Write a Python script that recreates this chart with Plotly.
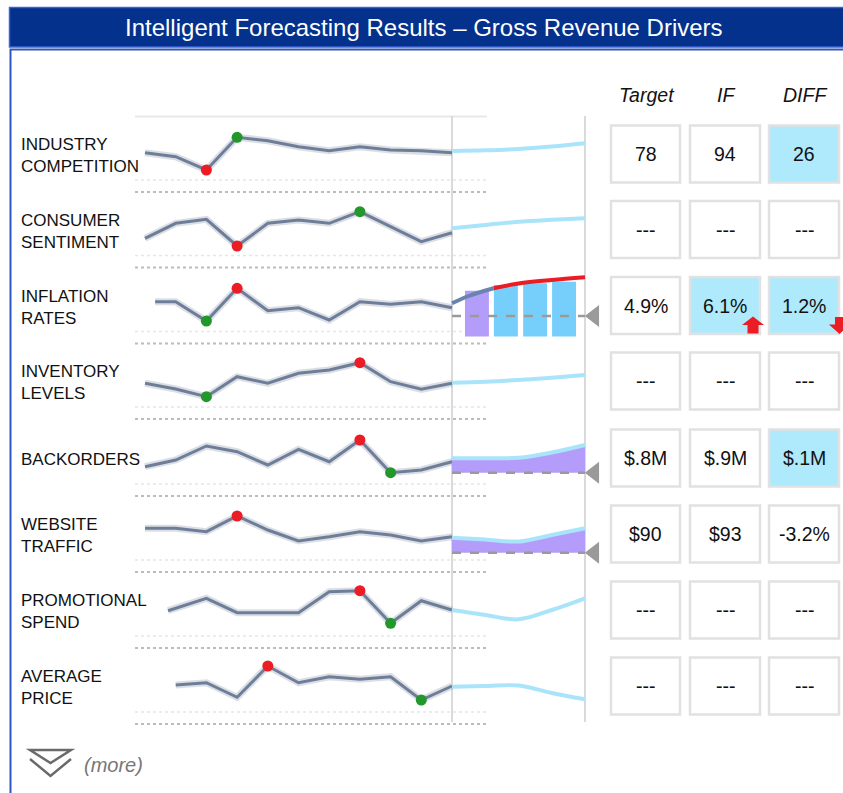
import plotly.graph_objects as go

W, H = 843, 793

# ---------------- data ----------------
row_labels = ["INDUSTRY<br>COMPETITION", "CONSUMER<br>SENTIMENT", "INFLATION<br>RATES",
              "INVENTORY<br>LEVELS", "BACKORDERS", "WEBSITE<br>TRAFFIC",
              "PROMOTIONAL<br>SPEND", "AVERAGE<br>PRICE"]

periods = [0, 1, 2, 3, 4, 5, 6, 7, 8, 9, 10]
periods_inflation = [0.33, 1, 2, 3, 4, 5, 6, 7, 8, 9, 10]
periods_promo = [0.75, 2, 3, 4, 5, 6, 7, 8, 9, 10]
periods_price = [1, 2, 3, 4, 5, 6, 7, 8, 9, 10]

hist_industry = [1.3, -2.7, -16, 16.7, 13.3, 7.3, 3.3, 7.3, 4, 3.3, 1.3]
hist_consumer = [-8.8, 6.2, 10.2, -16.5, 6.2, 9.5, 6.2, 17.8, 2.8, -12.2, -3.2]
hist_inflation = [3.8, 3.8, -15.5, 17.2, -5.2, -2.2, -14.5, 3.8, 1.2, 3.8, -2.2]
hist_inventory = [-2.3, -8, -15.7, 4.3, -2.3, 7.7, 11, 18.3, -0.7, -8.3, -2.3]
hist_backorders = [-8.7, -2, 12, 6.3, -7, 8.7, -3.7, 18, -14.7, -12, -3.7]
hist_website = [5.7, 5.7, 2.3, 18, 4, -7, -2.7, 2.3, -1, -7, -2.7]
hist_promo = [-0.7, 11.7, -2.7, -2.7, -2.7, 18.3, 19.3, -13.3, 9.3, 0]
hist_price = [1, 3.3, -11.3, 20, 3.3, 9.3, 6.7, 9.3, -14, 0]

red_period = [2, 3, 3, 7, 7, 3, 7, 4]
green_period = [3, 7, 2, 2, 8, None, 8, 9]

fc_steps = [0, 1, 2, 3, 4]
fc_steps_inflation = [0, 0.5, 1.25, 2, 3, 4]
fc_industry = [3, 3.7, 5, 7.5, 10.7]
fc_consumer = [1.2, 4.5, 7.8, 9.7, 11.2]
fc_inflation = [2.2, 9.5, 17.2, 22, 25.5, 28.2]
fc_inventory = [-1.7, -0.7, 1, 3.3, 6]
fc_backorders = [-0.3, -0.3, 0.2, 5.5, 13]
fc_website = [-3.7, -5.5, -7.5, -1, 5.7]
fc_promo = [0, -5, -9.3, 0, 11.7]
fc_price = [-0.7, 0, 0.5, -7, -13.3]

inflation_bar_x = [0.75, 1.62, 2.5, 3.37]
inflation_bar_top = [14.8, 20.5, 22.2, 23.8]
inflation_bar_base = -31

target_level = {2: -10.5, 4: -14.7, 5: -18.7}

target_vals = ["78", "---", "4.9%", "---", "$.8M", "$90", "---", "---"]
if_vals = ["94", "---", "6.1%", "---", "$.9M", "$93", "---", "---"]
diff_vals = ["26", "---", "1.2%", "---", "$.1M", "-3.2%", "---", "---"]
if_highlight = [False, False, True, False, False, False, False, False]
diff_highlight = [True, False, True, False, True, False, False, False]
col_headers = ["Target", "IF", "DIFF"]

hist_values = [hist_industry, hist_consumer, hist_inflation, hist_inventory,
               hist_backorders, hist_website, hist_promo, hist_price]
hist_periods = [periods, periods, periods_inflation, periods, periods, periods,
                periods_promo, periods_price]
fc_values = [fc_industry, fc_consumer, fc_inflation, fc_inventory,
             fc_backorders, fc_website, fc_promo, fc_price]

# ---------------- layout constants ----------------
ROW_C = [154, 229.5, 305.5, 381, 458, 534, 610, 686]
HALF = 38
HX0, HX1 = 145, 452
FX0, FX1 = 452, 585
HSTEP = (HX1 - HX0) / 10
FSTEP = (FX1 - FX0) / 4
CELL_X = [(611, 680), (690, 760), (769, 839)]

NAVY = "#03318b"
LINE = "#6e7e99"
LBLUE = "#a9e4fb"
PURPLE = "#b49cfa"
BARBLUE = "#76cffb"
RED = "#ec1c24"
GREEN = "#22972a"
GRAY = "#9a9a9a"
FONT = "Arial, Liberation Sans, sans-serif"


def X(p):
    return p / W


def Y(p):
    return 1 - p / H


def xr(k):
    return "x" if k == 1 else f"x{k}"


def yr(k):
    return "y" if k == 1 else f"y{k}"


fig = go.Figure()
layout_axes = {}

for i in range(8):
    c = ROW_C[i]
    kh, kf = 2 * i + 1, 2 * i + 2
    ydom = [Y(c + HALF), Y(c - HALF)]
    layout_axes["xaxis" if kh == 1 else f"xaxis{kh}"] = dict(
        domain=[X(HX0 - 0.25 * HSTEP), X(HX1 + 0.25 * HSTEP)], range=[-0.25, 10.25],
        visible=False, anchor=yr(kh), fixedrange=True)
    layout_axes["yaxis" if kh == 1 else f"yaxis{kh}"] = dict(
        domain=ydom, range=[-HALF, HALF], visible=False, anchor=xr(kh), fixedrange=True)
    layout_axes[f"xaxis{kf}"] = dict(
        domain=[X(FX0 - 0.1 * FSTEP), X(FX1 + 0.7 * FSTEP)], range=[-0.1, 4.7],
        visible=False, anchor=yr(kf), fixedrange=True)
    layout_axes[f"yaxis{kf}"] = dict(
        domain=ydom, range=[-HALF, HALF], visible=False, anchor=xr(kf), fixedrange=True)

    px_, vals = hist_periods[i], hist_values[i]
    lookup = dict(zip(px_, vals))
    # soft shadow + line
    fig.add_trace(go.Scatter(x=px_, y=vals, mode="lines", xaxis=xr(kh), yaxis=yr(kh),
                             line=dict(color="rgba(110,126,153,0.25)", width=7), hoverinfo="skip"))
    fig.add_trace(go.Scatter(x=px_, y=vals, mode="lines", xaxis=xr(kh), yaxis=yr(kh),
                             line=dict(color=LINE, width=3), hoverinfo="skip"))
    if red_period[i] is not None:
        fig.add_trace(go.Scatter(x=[red_period[i]], y=[lookup[red_period[i]]], mode="markers",
                                 xaxis=xr(kh), yaxis=yr(kh), cliponaxis=False,
                                 marker=dict(color=RED, size=11)))
    if green_period[i] is not None:
        fig.add_trace(go.Scatter(x=[green_period[i]], y=[lookup[green_period[i]]], mode="markers",
                                 xaxis=xr(kh), yaxis=yr(kh), cliponaxis=False,
                                 marker=dict(color=GREEN, size=11)))

    fv = fc_values[i]
    if i == 2:
        fig.add_trace(go.Bar(x=inflation_bar_x, y=[t - inflation_bar_base for t in inflation_bar_top],
                             base=inflation_bar_base, width=0.72, xaxis=xr(kf), yaxis=yr(kf),
                             marker=dict(color=[PURPLE, BARBLUE, BARBLUE, BARBLUE], line=dict(width=0))))
        fig.add_trace(go.Scatter(x=[0, 4], y=[target_level[i]] * 2, mode="lines",
                                 xaxis=xr(kf), yaxis=yr(kf),
                                 line=dict(color=GRAY, width=2.5, dash="dash")))
        fig.add_trace(go.Scatter(x=fc_steps_inflation[:3], y=fv[:3], mode="lines", line_shape="spline",
                                 xaxis=xr(kf), yaxis=yr(kf), line=dict(color="#6a84b0", width=4)))
        fig.add_trace(go.Scatter(x=fc_steps_inflation[2:], y=fv[2:], mode="lines", line_shape="spline",
                                 xaxis=xr(kf), yaxis=yr(kf), line=dict(color=RED, width=4)))
    elif i in (4, 5):
        fig.add_trace(go.Scatter(x=[0, 4], y=[target_level[i]] * 2, mode="lines",
                                 xaxis=xr(kf), yaxis=yr(kf),
                                 line=dict(color=GRAY, width=2.5, dash="dash")))
        fig.add_trace(go.Scatter(x=fc_steps, y=fv, mode="lines", line_shape="spline",
                                 fill="tonexty", fillcolor=PURPLE,
                                 xaxis=xr(kf), yaxis=yr(kf), line=dict(color=LBLUE, width=4)))
    else:
        fig.add_trace(go.Scatter(x=fc_steps, y=fv, mode="lines", line_shape="spline",
                                 xaxis=xr(kf), yaxis=yr(kf), line=dict(color=LBLUE, width=4)))
    if i in target_level:
        fig.add_trace(go.Scatter(x=[4.28], y=[target_level[i]], mode="markers", cliponaxis=False,
                                 xaxis=xr(kf), yaxis=yr(kf),
                                 marker=dict(symbol="triangle-left", size=19, color=GRAY)))

shapes = []
annotations = []


def rect(x0, y0, x1, y1, **kw):
    d = dict(type="rect", xref="paper", yref="paper", x0=X(x0), x1=X(x1), y0=Y(y1), y1=Y(y0))
    d.update(kw)
    shapes.append(d)


def hline(x0, x1, y, **kw):
    d = dict(type="line", xref="paper", yref="paper", x0=X(x0), x1=X(x1), y0=Y(y), y1=Y(y))
    d.update(kw)
    shapes.append(d)


def path(pts, close=True, **kw):
    s = "M " + " L ".join(f"{X(a):.5f},{Y(b):.5f}" for a, b in pts) + (" Z" if close else "")
    d = dict(type="path", xref="paper", yref="paper", path=s)
    d.update(kw)
    shapes.append(d)


# header and frame (open on the right / bottom, as in the cropped original)
rect(9.5, 7.5, 843, 47, fillcolor=NAVY, line=dict(width=0))
path([(843, 7.5), (9.5, 7.5), (9.5, 47), (843, 47)], close=False,
     line=dict(color="#3e62cf", width=1.5), fillcolor="rgba(0,0,0,0)")
path([(843, 49.5), (10.5, 49.5), (10.5, 793)], close=False,
     line=dict(color="#2f55c4", width=2), fillcolor="rgba(0,0,0,0)")
# keep the right edge clean
rect(841.5, 51, 843, 793, fillcolor="white", line=dict(width=0), layer="below")

# top separator and dotted separators
hline(135, 487, 116.5, line=dict(color="#e8e8e8", width=2), layer="below")
for c in ROW_C:
    hline(135, 487, c + 26, line=dict(color="#e6e6e6", width=1.5, dash="dot"), layer="below")
    hline(135, 487, c + 38, line=dict(color="#bcbcbc", width=2, dash="dot"), layer="below")

# vertical dividers
for xv in (452, 585):
    shapes.append(dict(type="line", xref="paper", yref="paper", x0=X(xv), x1=X(xv),
                       y0=Y(116), y1=Y(722), line=dict(color="#dadada", width=2), layer="below"))

# cells
for i, c in enumerate(ROW_C):
    cols = [target_vals[i], if_vals[i], diff_vals[i]]
    hl = [False, if_highlight[i], diff_highlight[i]]
    for j, (x0, x1) in enumerate(CELL_X):
        rect(x0, c - 28.5, x1, c + 28.5, fillcolor="#aee9fc" if hl[j] else "white",
             line=dict(color="#e1e1e1", width=2.5))
        annotations.append(dict(xref="paper", yref="paper", x=X((x0 + x1) / 2), y=Y(c),
                                text=cols[j], showarrow=False, xanchor="center", yanchor="middle",
                                font=dict(family=FONT, size=19.5, color="#111")))
    annotations.append(dict(xref="paper", yref="paper", x=X(19), y=Y(c + 1.5),
                            text=row_labels[i], showarrow=False, xanchor="left", yanchor="middle",
                            align="left", font=dict(family=FONT, size=17, color="#111")))

# red arrows (row 3)
path([(742, 325), (753, 316.5), (764, 325), (758.5, 325), (758.5, 333.5), (747.5, 333.5), (747.5, 325)],
     fillcolor=RED, line=dict(width=0))
path([(835, 317), (844, 317), (844, 324.5), (850, 324.5), (839.5, 334), (829, 324.5), (835, 324.5)],
     fillcolor=RED, line=dict(width=0))

# "(more)" icon
path([(30, 750), (71, 750), (50.5, 763)], close=True, line=dict(color="#6a6a6a", width=2.5),
     fillcolor="rgba(0,0,0,0)")
path([(30, 759), (50.5, 776), (71, 759)], close=False, line=dict(color="#6a6a6a", width=2.5),
     fillcolor="rgba(0,0,0,0)")

# titles
annotations.append(dict(xref="paper", yref="paper", x=X(424), y=Y(28),
                        text="Intelligent Forecasting Results \u2013 Gross Revenue Drivers",
                        showarrow=False, xanchor="center", yanchor="middle",
                        font=dict(family=FONT, size=24, color="white")))
for j, (x0, x1) in enumerate(CELL_X):
    annotations.append(dict(xref="paper", yref="paper", x=X((x0 + x1) / 2 + 1), y=Y(95),
                            text=f"<i>{col_headers[j]}</i>", showarrow=False,
                            xanchor="center", yanchor="middle",
                            font=dict(family=FONT, size=19.5, color="#111")))
annotations.append(dict(xref="paper", yref="paper", x=X(82), y=Y(765), text="<i>(more)</i>",
                        showarrow=False, xanchor="left", yanchor="middle",
                        font=dict(family=FONT, size=20, color="#777")))

fig.update_layout(
    width=W, height=H, margin=dict(l=0, r=0, t=0, b=0, pad=0),
    paper_bgcolor="white", plot_bgcolor="rgba(0,0,0,0)",
    showlegend=False, hovermode=False, barmode="overlay",
    shapes=shapes, annotations=annotations, **layout_axes)

fig.write_html("out.html", config={"displayModeBar": False},
               post_script="document.body.style.margin='0';")
